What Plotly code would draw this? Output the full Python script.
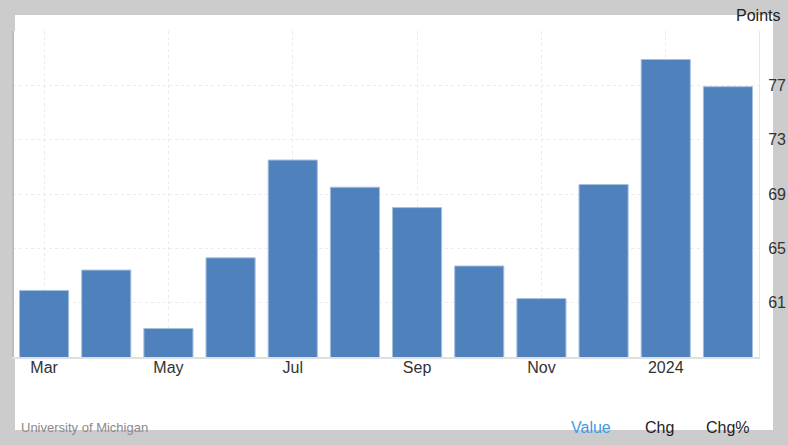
import plotly.graph_objects as go

months = ["Mar", "Apr", "May", "Jun", "Jul", "Aug", "Sep", "Oct", "Nov", "Dec", "Jan", "Feb"]
values = [61.9, 63.4, 59.1, 64.3, 71.5, 69.5, 68.0, 63.7, 61.3, 69.7, 78.9, 76.9]
xtick_cats = ["Mar", "May", "Jul", "Sep", "Nov", "Jan"]
xtick_text = ["Mar", "May", "Jul", "Sep", "Nov", "2024"]
ytick_vals = [57, 61, 65, 69, 73, 77, 81]
ytick_text = ["", "61", "65", "69", "73", "77", ""]

W, H = 788, 445
L, R, T, B = 13, 29, 31, 88
pw, ph = W - L - R, H - T - B

def px(x):
    return (x - L) / pw

def py(y):
    return (H - B - y) / ph

FONT = "Liberation Sans, Arial, sans-serif"

fig = go.Figure()
fig.add_trace(go.Bar(
    x=months, y=values,
    marker=dict(color="#4f81bd", line=dict(color="#a7bfdf", width=1)),
    hoverinfo="skip",
))

fig.update_layout(
    width=W, height=H,
    margin=dict(l=L, r=R, t=T, b=B, autoexpand=False),
    paper_bgcolor="#cccccc",
    plot_bgcolor="#ffffff",
    bargap=0.21,
    showlegend=False,
    font=dict(family=FONT, color="#333333", size=16),
    xaxis=dict(
        type="category",
        automargin=False,
        tickmode="array", tickvals=xtick_cats, ticktext=xtick_text,
        showgrid=True, gridcolor="#ebebeb", griddash="dot", gridwidth=1,
        showline=True, linecolor="#e0e0e0", linewidth=2,
        ticks="", ticklabelstandoff=-5,
        tickfont=dict(size=16, color="#333333"),
        fixedrange=True,
    ),
    yaxis=dict(
        side="right",
        automargin=False,
        range=[57, 81],
        tickmode="array", tickvals=ytick_vals, ticktext=ytick_text,
        showgrid=True, gridcolor="#ebebeb", griddash="dot", gridwidth=1,
        showline=True, linecolor="#e6e6e6", linewidth=1, mirror=True,
        zeroline=False,
        ticks="", ticklabelstandoff=5,
        tickfont=dict(size=16, color="#333333"),
        fixedrange=True,
    ),
    shapes=[
        dict(type="rect", xref="paper", yref="paper",
             x0=px(15), x1=px(773), y0=py(430), y1=py(15),
             fillcolor="#ffffff", line=dict(width=0), layer="below"),
        dict(type="line", xref="paper", yref="paper",
             x0=px(13), x1=px(13), y0=0, y1=1,
             line=dict(color="#bdbdbd", width=2), layer="above"),
    ],
    annotations=[
        dict(text="Points", xref="paper", yref="paper", x=px(782), y=py(15),
             xanchor="right", yanchor="middle", showarrow=False,
             font=dict(size=16, color="#222222")),
        dict(text="University of Michigan", xref="paper", yref="paper", x=px(19), y=py(427),
             xanchor="left", yanchor="middle", showarrow=False,
             font=dict(size=13, color="#8a8a8a")),
        dict(text="Value", xref="paper", yref="paper", x=px(569), y=py(427),
             xanchor="left", yanchor="middle", showarrow=False,
             font=dict(size=16, color="#3d9be9")),
        dict(text="Chg", xref="paper", yref="paper", x=px(643), y=py(427),
             xanchor="left", yanchor="middle", showarrow=False,
             font=dict(size=16, color="#222222")),
        dict(text="Chg%", xref="paper", yref="paper", x=px(704), y=py(427),
             xanchor="left", yanchor="middle", showarrow=False,
             font=dict(size=16, color="#222222")),
    ],
)

fig.write_html(
    "out.html",
    config={"displayModeBar": False},
    post_script="document.body.style.margin='0';document.body.style.overflow='hidden';document.body.style.background='#cccccc';",
)
